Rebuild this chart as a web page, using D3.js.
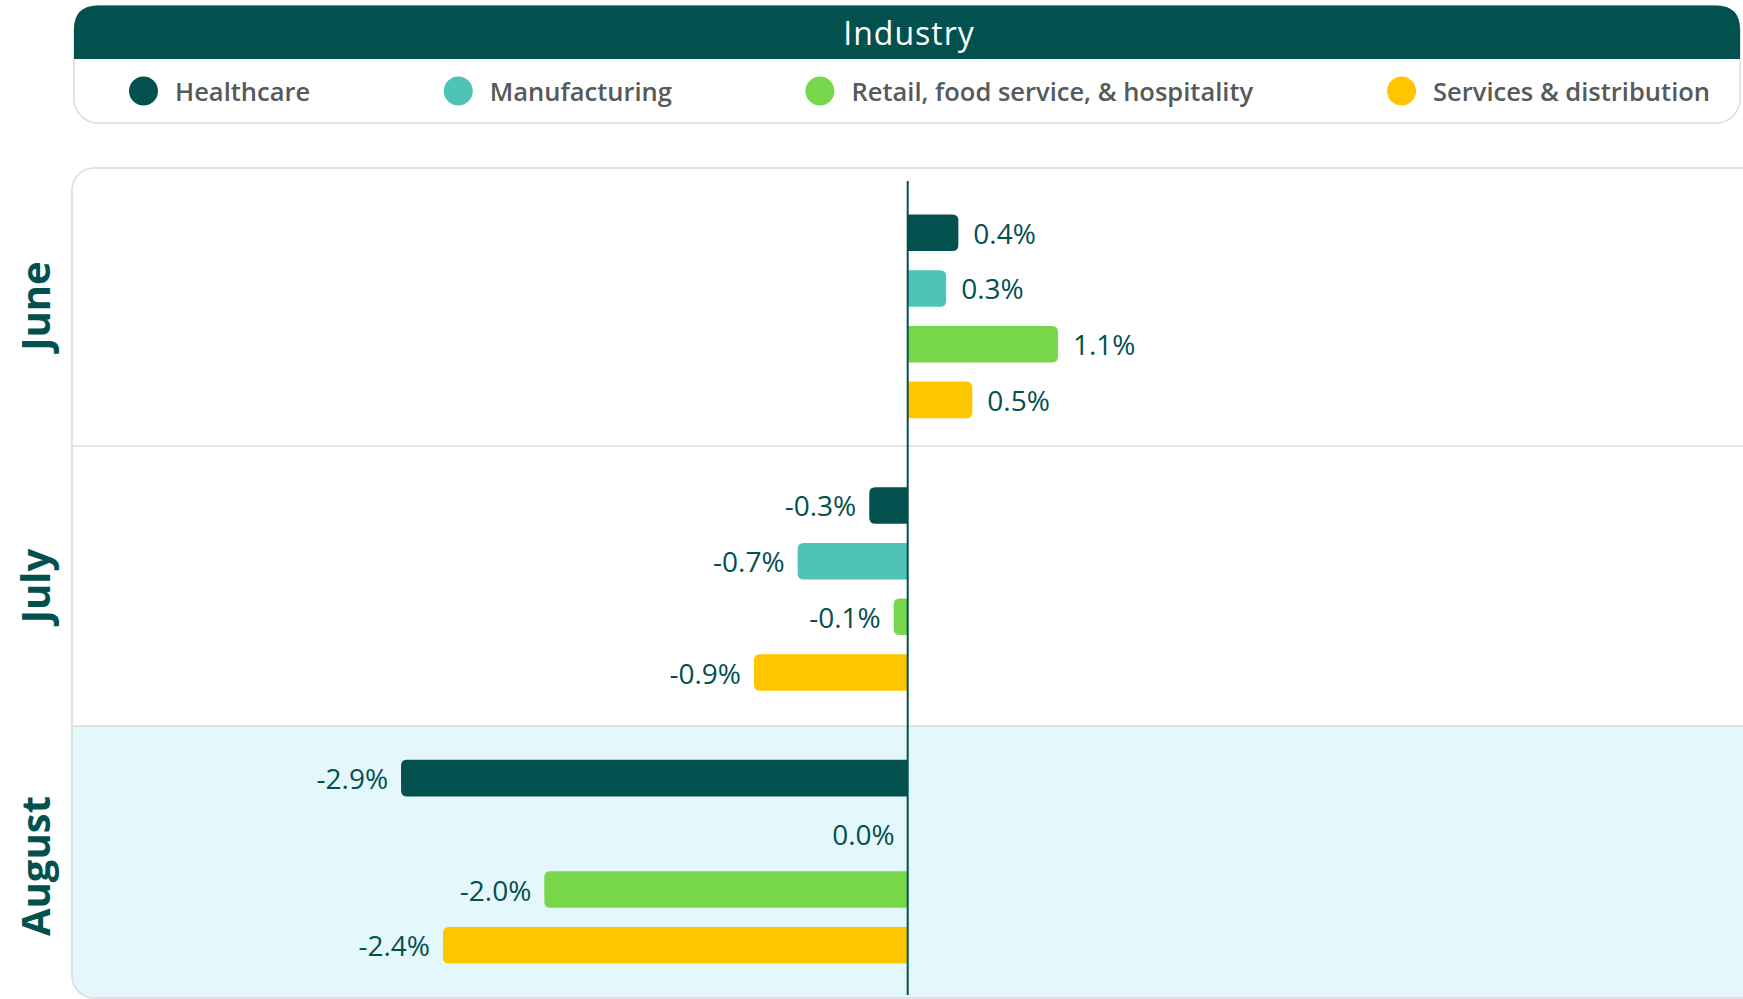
<!DOCTYPE html>
<html>
<head>
<meta charset="utf-8">
<script src="https://cdn.jsdelivr.net/npm/d3@7"></script>
<style>
  body { margin: 0; background: #fff; }
  text { font-family: "Open Sans", sans-serif; }
</style>
</head>
<body>
<div id="chart"></div>
<script>
// data
const months = ["June", "July", "August"]
const industries = ["Healthcare", "Manufacturing", "Retail, food service, & hospitality", "Services & distribution"]
// bar lengths (% units)
const juneValues = [0.29, 0.22, 0.86, 0.37]
const julyValues = [-0.22, -0.63, -0.08, -0.88]
const augustValues = [-2.9, 0, -2.08, -2.66]
// printed labels
const juneLabels = ["0.4%", "0.3%", "1.1%", "0.5%"]
const julyLabels = ["-0.3%", "-0.7%", "-0.1%", "-0.9%"]
const augustLabels = ["-2.9%", "0.0%", "-2.0%", "-2.4%"]

const valuesByMonth = [juneValues, julyValues, augustValues]
const labelsByMonth = [juneLabels, julyLabels, augustLabels]

const width = 1743, height = 999
const dark = "#02514f"

const color = d3.scaleOrdinal()
  .domain(industries)
  .range(["#02514f", "#4fc3b5", "#78d64b", "#ffc600"])

let svg = d3.select("#chart")
  .append("svg")
  .attr("width", width)
  .attr("height", height)

//Legend box
let legLeft = 74, legRight = 1740, legTop = 5.5, legHead = 59, legBottom = 123, legR = 24
svg.append("rect")
  .attr("x", legLeft)
  .attr("y", legTop)
  .attr("width", legRight - legLeft)
  .attr("height", legBottom - legTop)
  .attr("rx", legR)
  .attr("fill", "#fff")
  .attr("stroke", "#dcdcdc")
  .attr("stroke-width", 1.5)

svg.append("path")
  .attr("d", `M${legLeft},${legHead} V${legTop + legR} Q${legLeft},${legTop} ${legLeft + legR},${legTop}
    H${legRight - legR} Q${legRight},${legTop} ${legRight},${legTop + legR} V${legHead} Z`)
  .attr("fill", dark)

svg.append("text")
  .text("Industry")
  .attr("x", 909)
  .attr("y", 32)
  .attr("dominant-baseline", "central")
  .style("text-anchor", "middle")
  .style("font-size", "32px")
  .style("letter-spacing", "1px")
  .attr("fill", "#fff")

//legend items, spread between the edges
let items = svg.append("g")
  .selectAll("g")
  .data(industries)
  .enter().append("g")

items.append("circle")
  .attr("r", 14.5)
  .attr("cx", 14.5)
  .attr("cy", 91)
  .attr("fill", d => color(d))

items.append("text")
  .text(d => d)
  .attr("x", 46)
  .attr("y", 91)
  .attr("dominant-baseline", "central")
  .style("font-size", "25.5px")
  .style("font-weight", 600)
  .attr("fill", "#555a5a")

let itemWidths = []
items.each(function(){ itemWidths.push(this.getBBox().width) })
let legStart = 129, legEnd = 1710
let gap = (legEnd - legStart - d3.sum(itemWidths)) / (industries.length - 1)
let pos = legStart
items.attr("transform", (d, i) => {
  let t = "translate(" + pos + ",0)"
  pos += itemWidths[i] + gap
  return t
})

//chart panel
let panelLeft = 72, panelTop = 168, panelBottom = 998, panelR = 22

//rows (backgrounds, separators, month names)
let yRows = d3.scaleBand()
  .domain(months)
  .range([166, 1006])

//bar groups
let y = d3.scaleBand()
  .domain(months)
  .range([180, 998])

let yInner = d3.scaleBand()
  .domain(industries)
  .range([0, y.bandwidth()])
  .paddingInner(0.344)
  .paddingOuter(0.62)

let x = d3.scaleLinear()
  .domain([-3, 3])
  .range([907.7 - 3 * 174.7, 907.7 + 3 * 174.7])

let clip = svg.append("clipPath").attr("id", "panelClip")
clip.append("rect")
  .attr("x", panelLeft)
  .attr("y", panelTop)
  .attr("width", width + 40 - panelLeft)
  .attr("height", panelBottom - panelTop)
  .attr("rx", panelR)

let panel = svg.append("g").attr("clip-path", "url(#panelClip)")

panel.append("rect")
  .attr("x", panelLeft)
  .attr("y", panelTop)
  .attr("width", width + 40 - panelLeft)
  .attr("height", panelBottom - panelTop)
  .attr("fill", "#fff")

//highlighted last month
panel.append("rect")
  .attr("x", panelLeft)
  .attr("y", yRows("August"))
  .attr("width", width + 40 - panelLeft)
  .attr("height", panelBottom - yRows("August") + 10)
  .attr("fill", "#e4f7fb")

//row separators
panel.selectAll(".sep")
  .data(months.slice(1))
  .enter().append("line")
  .attr("x1", panelLeft)
  .attr("x2", width)
  .attr("y1", d => yRows(d))
  .attr("y2", d => yRows(d))
  .attr("stroke", "#dcdcdc")
  .attr("stroke-width", 1.5)

svg.append("rect")
  .attr("x", panelLeft)
  .attr("y", panelTop)
  .attr("width", width + 40 - panelLeft)
  .attr("height", panelBottom - panelTop)
  .attr("rx", panelR)
  .attr("fill", "none")
  .attr("stroke", "#dcdcdc")
  .attr("stroke-width", 1.5)

//month labels
svg.selectAll(".month")
  .data(months)
  .enter().append("text")
  .text(d => d)
  .attr("transform", d => "translate(34," + (yRows(d) + yRows.bandwidth() / 2) + ") rotate(-90)")
  .attr("dominant-baseline", "central")
  .style("text-anchor", "middle")
  .style("font-size", "40px")
  .style("font-weight", 700)
  .attr("fill", dark)

//bar with rounded outer end
function barPath(x0, x1, top, h, r){
  let w = Math.abs(x1 - x0)
  r = Math.min(r, w / 2, h / 2)
  let s = x1 >= x0 ? 1 : -1
  return `M${x0},${top} H${x1 - s * r} Q${x1},${top} ${x1},${top + r} V${top + h - r}
    Q${x1},${top + h} ${x1 - s * r},${top + h} H${x0} Z`
}

let rows = []
months.forEach((m, mi) => {
  industries.forEach((ind, ii) => {
    rows.push({month: m, industry: ind, value: valuesByMonth[mi][ii], label: labelsByMonth[mi][ii]})
  })
})

let bars = svg.append("g")
bars.selectAll("path")
  .data(rows.filter(d => d.value != 0))
  .enter().append("path")
  .attr("d", d => barPath(x(0), x(d.value), y(d.month) + yInner(d.industry), yInner.bandwidth(), 6))
  .attr("fill", d => color(d.industry))

svg.append("g").selectAll("text")
  .data(rows)
  .enter().append("text")
  .text(d => d.label)
  .attr("x", d => d.value > 0 ? x(d.value) + 15 : x(d.value) - 13)
  .attr("y", d => y(d.month) + yInner(d.industry) + yInner.bandwidth() / 2)
  .attr("dominant-baseline", "central")
  .style("text-anchor", d => d.value > 0 ? "start" : "end")
  .style("font-size", "28px")
  .attr("fill", dark)

//zero line
svg.append("line")
  .attr("x1", x(0))
  .attr("x2", x(0))
  .attr("y1", 181)
  .attr("y2", 995)
  .attr("stroke", dark)
  .attr("stroke-width", 2)
</script>
</body>
</html>
